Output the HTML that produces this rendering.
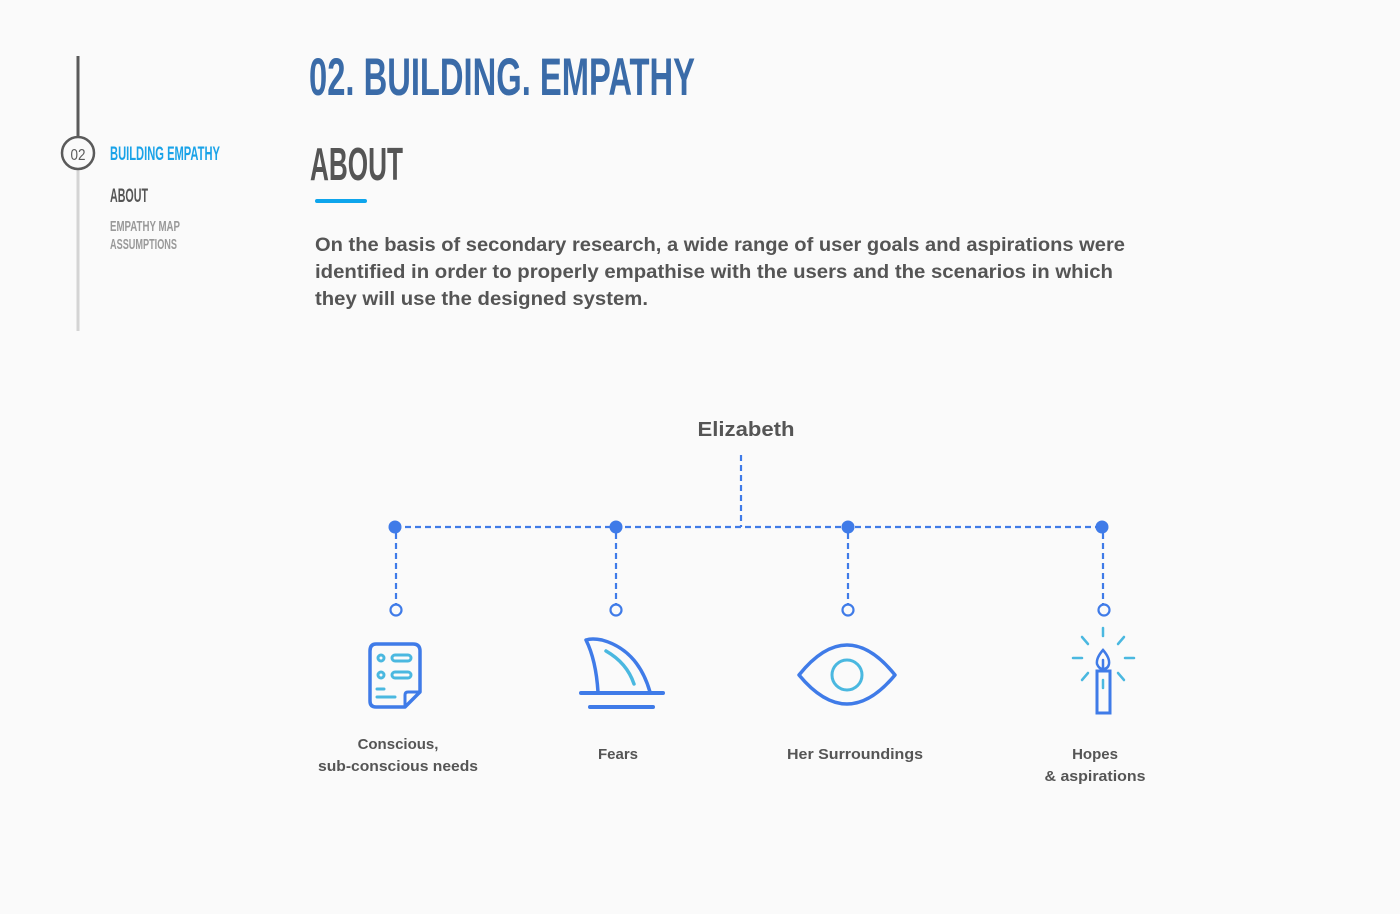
<!DOCTYPE html>
<html><head><meta charset="utf-8"><style>
html,body{margin:0;padding:0;background:#fafafa;}
svg{display:block;}
</style></head><body>
<svg width="1400" height="914" viewBox="0 0 1400 914" xmlns="http://www.w3.org/2000/svg">
<rect width="1400" height="914" fill="#fafafa"/>
<g>
<line x1="78" y1="56" x2="78" y2="137" stroke="#5a5a5a" stroke-width="3"/>
<line x1="78" y1="169" x2="78" y2="331" stroke="#d4d4d4" stroke-width="3"/>
<circle cx="78" cy="153" r="16" fill="none" stroke="#5a5a5a" stroke-width="2.5"/>
<text x="78" y="160" text-anchor="middle" font-family="Liberation Sans, sans-serif" font-size="16" fill="#5a5a5a" textLength="15" lengthAdjust="spacingAndGlyphs">02</text>
<text x="110" y="160" font-family="Liberation Sans, sans-serif" font-weight="bold" font-size="19" fill="#1aa3e8" textLength="110" lengthAdjust="spacingAndGlyphs">BUILDING EMPATHY</text>
<text x="110" y="202" font-family="Liberation Sans, sans-serif" font-weight="bold" font-size="19" fill="#555" textLength="38" lengthAdjust="spacingAndGlyphs">ABOUT</text>
<text x="110" y="231" font-family="Liberation Sans, sans-serif" font-weight="bold" font-size="15" fill="#999" textLength="70" lengthAdjust="spacingAndGlyphs">EMPATHY MAP</text>
<text x="110" y="249" font-family="Liberation Sans, sans-serif" font-weight="bold" font-size="15" fill="#999" textLength="67" lengthAdjust="spacingAndGlyphs">ASSUMPTIONS</text>
</g>
<text x="309" y="95" font-family="Liberation Sans, sans-serif" font-weight="bold" font-size="53" fill="#3a6ba8" textLength="386" lengthAdjust="spacingAndGlyphs">02. BUILDING. EMPATHY</text>
<text x="310" y="180" font-family="Liberation Sans, sans-serif" font-weight="bold" font-size="46" fill="#555" textLength="93" lengthAdjust="spacingAndGlyphs">ABOUT</text>
<rect x="315" y="199" width="52" height="4" rx="2" fill="#0ea5ec"/>
<g font-family="Liberation Sans, sans-serif" font-weight="bold" font-size="19" fill="#555">
<text x="315" y="251" textLength="810" lengthAdjust="spacingAndGlyphs">On the basis of secondary research, a wide range of user goals and aspirations were</text>
<text x="315" y="278" textLength="798" lengthAdjust="spacingAndGlyphs">identified in order to properly empathise with the users and the scenarios in which</text>
<text x="315" y="305" textLength="333" lengthAdjust="spacingAndGlyphs">they will use the designed system.</text>
</g>
<g>
<text x="746" y="436" text-anchor="middle" font-family="Liberation Sans, sans-serif" font-weight="bold" font-size="20" fill="#555" textLength="97" lengthAdjust="spacingAndGlyphs">Elizabeth</text>
<g stroke="#3f7be8" stroke-width="2.2" stroke-dasharray="6,4" fill="none">
<line x1="741" y1="455" x2="741" y2="527"/>
<line x1="395" y1="527" x2="1102" y2="527"/>
<line x1="396" y1="533" x2="396" y2="604"/>
<line x1="616" y1="533" x2="616" y2="604"/>
<line x1="848" y1="533" x2="848" y2="604"/>
<line x1="1103" y1="533" x2="1103" y2="604"/>
</g>
<g fill="#3f7be8">
<circle cx="395" cy="527" r="6.5"/><circle cx="616" cy="527" r="6.5"/><circle cx="848" cy="527" r="6.5"/><circle cx="1102" cy="527" r="6.5"/>
</g>
<g fill="#fafafa" stroke="#3f7be8" stroke-width="2.2">
<circle cx="396" cy="610" r="5.5"/><circle cx="616" cy="610" r="5.5"/><circle cx="848" cy="610" r="5.5"/><circle cx="1104" cy="610" r="5.5"/>
</g>
</g>
<g fill="none" stroke-linecap="round" stroke-linejoin="round">
<path d="M376 644 H413 Q420 644 420 651 V692 L405 707 H376 Q370 707 370 701 V651 Q370 644 376 644 Z" stroke="#3f7be8" stroke-width="3.5"/>
<path d="M420 692 H408 Q405 692 405 695 V707" stroke="#3f7be8" stroke-width="3"/>
<g stroke="#4ab8e0" stroke-width="3">
<circle cx="381" cy="658" r="3"/><circle cx="381" cy="675" r="3"/>
<rect x="392" y="655" width="19" height="6" rx="3"/><rect x="392" y="672" width="19" height="6" rx="3"/>
<line x1="377" y1="689" x2="384" y2="689"/><line x1="377" y1="697" x2="395" y2="697"/>
</g>
</g>
<g fill="none" stroke-linecap="round" stroke-linejoin="round">
<path d="M598 692 Q596 660 586 640 Q592 638 602 640 Q638 650 650 692" stroke="#3f7be8" stroke-width="3.5"/>
<line x1="581" y1="693" x2="663" y2="693" stroke="#3f7be8" stroke-width="4"/>
<line x1="590" y1="707" x2="653" y2="707" stroke="#3f7be8" stroke-width="4"/>
<path d="M606 651 Q627 663 634 684" stroke="#4ab8e0" stroke-width="3.5"/>
</g>
<g fill="none">
<path d="M799 675 Q823 645 847 645 Q871 645 895 675 Q871 704 847 704 Q823 704 799 675 Z" stroke="#3f7be8" stroke-width="3.5" stroke-linejoin="round"/>
<circle cx="847" cy="675" r="15" stroke="#4ab8e0" stroke-width="3"/>
</g>
<g fill="none" stroke-linecap="round">
<rect x="1097" y="671" width="13" height="42" stroke="#3f7be8" stroke-width="3"/>
<path d="M1103 650 Q1096 658 1097 664 Q1099 669 1103 669 Q1108 669 1109 664 Q1110 658 1103 650 Z M1103 660 V669" stroke="#3f7be8" stroke-width="2.5"/>
<g stroke="#4ab8e0" stroke-width="2.5">
<line x1="1103" y1="628" x2="1103" y2="636"/>
<line x1="1082" y1="637" x2="1088" y2="644"/><line x1="1124" y1="637" x2="1118" y2="644"/>
<line x1="1073" y1="658" x2="1082" y2="658"/><line x1="1125" y1="658" x2="1134" y2="658"/>
<line x1="1082" y1="680" x2="1088" y2="673"/><line x1="1124" y1="680" x2="1118" y2="673"/>
<line x1="1103" y1="680" x2="1103" y2="688"/>
</g>
</g>
<g font-family="Liberation Sans, sans-serif" font-weight="bold" font-size="15" fill="#555" text-anchor="middle">
<text x="398" y="749">Conscious,</text>
<text x="398" y="771" textLength="160" lengthAdjust="spacingAndGlyphs">sub-conscious needs</text>
<text x="618" y="759">Fears</text>
<text x="855" y="759" textLength="136" lengthAdjust="spacingAndGlyphs">Her Surroundings</text>
<text x="1095" y="759">Hopes</text>
<text x="1095" y="781" textLength="101" lengthAdjust="spacingAndGlyphs">&amp; aspirations</text>
</g>
</svg>
</body></html>
